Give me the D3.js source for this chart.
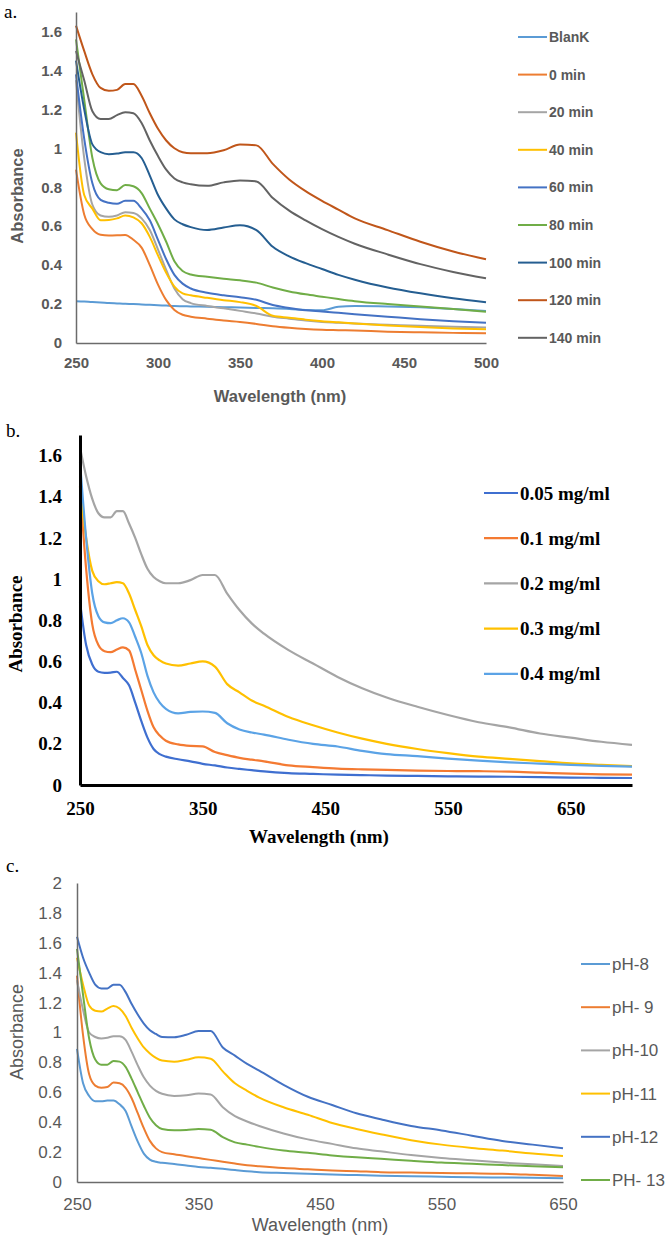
<!DOCTYPE html>
<html><head><meta charset="utf-8">
<script src="https://cdn.jsdelivr.net/npm/d3@7"></script>
<style>body{margin:0;background:#fff}</style>
</head><body>
<svg id="chart" width="666" height="1238"></svg>
<script>
// ---------- Panel a data ----------
const wavelengthA = [250,255,260,265,270,275,280,285,290,295,300,305,310,315,320,330,340,350,360,370,380,390,400,410,420,440,460,480,500];
const blankA  = [0.215,0.213,0.21,0.208,0.205,0.203,0.201,0.2,0.198,0.196,0.194,0.192,0.19,0.189,0.188,0.186,0.184,0.182,0.18,0.178,0.175,0.17,0.168,0.186,0.19,0.188,0.183,0.175,0.165];
const min0A   = [0.89,0.66,0.585,0.556,0.552,0.553,0.555,0.53,0.49,0.40,0.30,0.22,0.17,0.145,0.135,0.125,0.115,0.108,0.098,0.086,0.078,0.072,0.068,0.066,0.064,0.058,0.055,0.052,0.05];
const min20A  = [1.35,0.95,0.71,0.655,0.648,0.655,0.672,0.668,0.64,0.58,0.48,0.375,0.28,0.225,0.205,0.19,0.178,0.165,0.152,0.135,0.125,0.115,0.108,0.104,0.1,0.094,0.088,0.083,0.08];
const min40A  = [1.08,0.76,0.69,0.63,0.632,0.64,0.655,0.645,0.615,0.545,0.45,0.36,0.29,0.255,0.245,0.232,0.22,0.21,0.19,0.14,0.13,0.12,0.112,0.106,0.1,0.09,0.082,0.075,0.07];
const min60A  = [1.38,1.05,0.82,0.735,0.72,0.715,0.73,0.73,0.69,0.63,0.53,0.43,0.35,0.305,0.28,0.258,0.245,0.235,0.222,0.195,0.18,0.168,0.162,0.155,0.148,0.135,0.122,0.112,0.104];
const min80A  = [1.56,1.25,0.95,0.82,0.79,0.785,0.812,0.805,0.77,0.69,0.61,0.52,0.42,0.37,0.352,0.34,0.33,0.322,0.31,0.285,0.265,0.25,0.238,0.226,0.215,0.2,0.188,0.175,0.16];
const min100A = [1.45,1.2,1.02,0.98,0.97,0.973,0.98,0.98,0.95,0.86,0.76,0.69,0.635,0.61,0.595,0.58,0.593,0.605,0.58,0.494,0.445,0.41,0.38,0.35,0.325,0.285,0.255,0.23,0.209];
const min120A = [1.63,1.5,1.38,1.31,1.295,1.30,1.33,1.33,1.27,1.18,1.10,1.04,1.0,0.98,0.975,0.975,0.99,1.02,1.015,0.92,0.84,0.78,0.73,0.685,0.64,0.58,0.52,0.47,0.43];
const min140A = [1.5,1.35,1.19,1.15,1.15,1.17,1.185,1.18,1.13,1.04,0.96,0.89,0.845,0.825,0.815,0.807,0.825,0.835,0.83,0.745,0.68,0.63,0.585,0.545,0.51,0.455,0.405,0.365,0.332];
const namesA = ["BlanK","0 min","20 min","40 min","60 min","80 min","100 min","120 min","140 min"];
const xTicksA = [250,300,350,400,450,500];
const yTicksA = [0,0.2,0.4,0.6,0.8,1,1.2,1.4,1.6];

// ---------- Panel b data ----------
const wavelengthB = [250,255,260,265,270,275,280,285,290,295,300,305,310,315,320,330,340,350,360,370,380,390,400,420,440,460,480,500,525,550,575,600,625,650,675,700];
const c005B = [0.89,0.68,0.585,0.55,0.545,0.546,0.55,0.52,0.484,0.40,0.31,0.23,0.175,0.15,0.138,0.125,0.115,0.103,0.095,0.085,0.078,0.072,0.066,0.058,0.054,0.05,0.048,0.046,0.044,0.042,0.041,0.04,0.038,0.036,0.035,0.034];
const c01B  = [1.45,1.05,0.78,0.68,0.65,0.645,0.658,0.668,0.654,0.56,0.46,0.36,0.28,0.24,0.215,0.197,0.19,0.188,0.16,0.145,0.132,0.123,0.115,0.095,0.087,0.08,0.076,0.073,0.07,0.068,0.067,0.065,0.06,0.055,0.052,0.05];
const c02B  = [1.64,1.5,1.39,1.32,1.30,1.30,1.33,1.33,1.27,1.20,1.12,1.05,1.01,0.99,0.98,0.98,0.995,1.02,1.02,0.93,0.85,0.785,0.735,0.655,0.59,0.525,0.47,0.425,0.38,0.34,0.305,0.28,0.25,0.23,0.21,0.195];
const c03B  = [1.45,1.2,1.04,0.99,0.975,0.98,0.985,0.98,0.93,0.85,0.77,0.68,0.63,0.605,0.59,0.58,0.59,0.60,0.575,0.49,0.45,0.41,0.385,0.33,0.29,0.255,0.225,0.2,0.175,0.155,0.138,0.127,0.116,0.105,0.098,0.092];
const c04B  = [1.57,1.2,0.93,0.82,0.79,0.786,0.80,0.81,0.79,0.72,0.64,0.53,0.45,0.40,0.37,0.348,0.355,0.357,0.35,0.30,0.27,0.255,0.245,0.22,0.2,0.187,0.166,0.15,0.14,0.128,0.118,0.11,0.104,0.098,0.093,0.089];
const namesB = ["0.05 mg/ml","0.1 mg/ml","0.2 mg/ml","0.3 mg/ml","0.4 mg/ml"];
const xTicksB = [250,350,450,550,650];
const yTicksB = [0,0.2,0.4,0.6,0.8,1,1.2,1.4,1.6];

// ---------- Panel c data ----------
const wavelengthC = [250,255,260,265,270,275,280,285,290,295,300,305,310,315,320,330,340,350,360,370,380,390,400,420,440,460,480,500,525,550,575,600,625,650];
const pH8C  = [0.89,0.66,0.575,0.54,0.54,0.545,0.545,0.52,0.475,0.37,0.27,0.19,0.15,0.135,0.128,0.12,0.11,0.1,0.095,0.088,0.08,0.072,0.066,0.06,0.055,0.05,0.046,0.042,0.038,0.035,0.032,0.03,0.028,0.025];
const pH9C  = [1.38,0.98,0.72,0.645,0.63,0.635,0.665,0.66,0.63,0.56,0.46,0.36,0.275,0.225,0.2,0.185,0.172,0.16,0.148,0.135,0.123,0.112,0.105,0.093,0.085,0.077,0.072,0.066,0.063,0.06,0.058,0.055,0.048,0.04];
const pH10C = [1.35,1.15,1.0,0.97,0.96,0.965,0.975,0.975,0.95,0.87,0.78,0.70,0.645,0.61,0.59,0.576,0.58,0.592,0.585,0.50,0.44,0.405,0.375,0.325,0.285,0.255,0.225,0.205,0.18,0.16,0.145,0.13,0.118,0.107];
const pH11C = [1.5,1.32,1.18,1.145,1.14,1.16,1.177,1.16,1.11,1.03,0.96,0.9,0.86,0.83,0.812,0.805,0.818,0.834,0.825,0.74,0.66,0.61,0.565,0.5,0.45,0.395,0.355,0.32,0.28,0.25,0.228,0.21,0.19,0.174];
const pH12C = [1.64,1.5,1.4,1.32,1.295,1.295,1.32,1.32,1.27,1.19,1.12,1.06,1.015,0.99,0.97,0.968,0.985,1.01,1.01,0.9,0.845,0.79,0.745,0.65,0.57,0.515,0.46,0.42,0.375,0.345,0.31,0.275,0.25,0.225];
const pH13C = [1.56,1.25,0.96,0.82,0.785,0.785,0.81,0.805,0.77,0.69,0.60,0.51,0.43,0.38,0.355,0.346,0.348,0.355,0.35,0.30,0.265,0.25,0.235,0.21,0.195,0.178,0.165,0.155,0.142,0.13,0.122,0.113,0.105,0.098];
const namesC = ["pH-8","pH- 9","pH-10","pH-11","pH-12","PH- 13"];
const xTicksC = [250,350,450,550,650];
const yTicksC = [0,0.2,0.4,0.6,0.8,1,1.2,1.4,1.6,1.8,2];

const svg = d3.select("#chart");
const fmt = v => String(+v.toFixed(1));

function panel(o) {
  const g = svg.append("g");
  const x = d3.scaleLinear().domain(o.xDomain).range([o.x0, o.x1]);
  const y = d3.scaleLinear().domain(o.yDomain).range([o.y0, o.y1]);

  g.append("text").attr("x", o.letterX).attr("y", o.letterY)
    .attr("font-family", "'Liberation Serif','Times New Roman',serif")
    .attr("font-size", 19).attr("fill", "#000").text(o.letter);

  const line = d3.line().x((d, i) => x(o.xs[i])).y(d => y(d)).curve(d3.curveMonotoneX);
  o.series.forEach((s, i) => {
    g.append("path").datum(s).attr("d", line).attr("fill", "none")
      .attr("stroke", o.colors[i]).attr("stroke-width", o.lw).attr("stroke-linejoin", "round");
  });

  const ax = g.append("g").attr("transform", `translate(0,${o.y0})`)
    .call(d3.axisBottom(x).tickValues(o.xTicks).tickSize(0).tickPadding(o.xPad).tickFormat(d3.format("d")));
  const ay = g.append("g").attr("transform", `translate(${o.x0},0)`)
    .call(d3.axisLeft(y).tickValues(o.yTicks).tickSize(0).tickPadding(o.yPad).tickFormat(fmt));
  [ax, ay].forEach(a => {
    a.select(".domain").attr("stroke", o.axisColor).attr("stroke-width", o.axisW);
    a.selectAll("text").attr("font-family", o.font).attr("font-size", o.tickSize)
      .attr("font-weight", o.weight).attr("fill", o.textColor);
  });

  g.append("text").attr("x", o.xTitleX).attr("y", o.xTitleY).attr("text-anchor", "middle")
    .attr("font-family", o.font).attr("font-size", o.titleSize).attr("font-weight", o.weight)
    .attr("fill", o.textColor).text("Wavelength (nm)");
  g.append("text").attr("transform", `translate(${o.yTitleX},${o.yTitleY}) rotate(-90)`)
    .attr("text-anchor", "middle")
    .attr("font-family", o.font).attr("font-size", o.titleSize).attr("font-weight", o.weight)
    .attr("fill", o.textColor).text("Absorbance");

  o.names.forEach((n, i) => {
    const ly = o.legY0 + i * o.legStep;
    g.append("line").attr("x1", o.legX).attr("x2", o.legX + o.legLen)
      .attr("y1", ly).attr("y2", ly).attr("stroke", o.colors[i]).attr("stroke-width", o.lw);
    g.append("text").attr("x", o.legX + o.legLen + 2).attr("y", ly).attr("dy", "0.35em")
      .attr("font-family", o.font).attr("font-size", o.legSize).attr("font-weight", o.weight)
      .attr("fill", o.textColor).text(n);
  });
}

const sans = "'Liberation Sans', Arial, sans-serif";
const serif = "'Liberation Serif','Times New Roman',serif";

panel({
  letter: "a.", letterX: 4, letterY: 18,
  xs: wavelengthA, series: [blankA,min0A,min20A,min40A,min60A,min80A,min100A,min120A,min140A],
  names: namesA,
  colors: ["#5B9BD5","#ED7D31","#A5A5A5","#FFC000","#4472C4","#70AD47","#255E91","#C0561A","#636363"],
  xDomain: [250,500], yDomain: [0,1.7], x0: 76, x1: 486, y0: 343, y1: 12,
  xTicks: xTicksA, yTicks: yTicksA, xPad: 14, yPad: 14,
  font: sans, weight: "bold", textColor: "#595959", axisColor: "#6b6b6b", axisW: 1.5, lw: 2,
  tickSize: 15, titleSize: 16.5, legSize: 14,
  xTitleX: 280, xTitleY: 402, yTitleX: 23, yTitleY: 196,
  legX: 518, legLen: 29, legY0: 37, legStep: 37.6
});

panel({
  letter: "b.", letterX: 6, letterY: 437,
  xs: wavelengthB, series: [c005B,c01B,c02B,c03B,c04B],
  names: namesB,
  colors: ["#3F6FD0","#F47A32","#A5A5A5","#FFC000","#5BA3E6"],
  xDomain: [250,700], yDomain: [0,1.7], x0: 80, x1: 632, y0: 785, y1: 435,
  xTicks: xTicksB, yTicks: yTicksB, xPad: 17, yPad: 18,
  font: serif, weight: "bold", textColor: "#000", axisColor: "#000", axisW: 3, lw: 2.2,
  tickSize: 19, titleSize: 19, legSize: 19,
  xTitleX: 319, xTitleY: 843, yTitleX: 22, yTitleY: 624,
  legX: 484, legLen: 34, legY0: 493, legStep: 45.2
});

panel({
  letter: "c.", letterX: 6, letterY: 872,
  xs: wavelengthC, series: [pH8C,pH9C,pH10C,pH11C,pH12C,pH13C],
  names: namesC,
  colors: ["#5B9BD5","#ED7D31","#A5A5A5","#FFC000","#4472C4","#70AD47"],
  xDomain: [250,650], yDomain: [0,2], x0: 77, x1: 563, y0: 1182, y1: 883,
  xTicks: xTicksC, yTicks: yTicksC, xPad: 16, yPad: 15,
  font: sans, weight: "normal", textColor: "#595959", axisColor: "#6b6b6b", axisW: 1.5, lw: 2,
  tickSize: 17, titleSize: 18, legSize: 17,
  xTitleX: 320, xTitleY: 1231, yTitleX: 23, yTitleY: 1032,
  legX: 581, legLen: 29, legY0: 964, legStep: 43.2
});
</script>
</body></html>
